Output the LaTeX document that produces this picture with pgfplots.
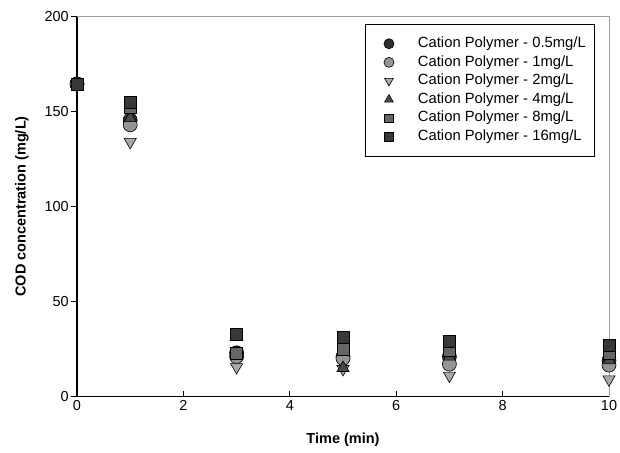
\documentclass[border=0pt]{standalone}
\usepackage{pgfplots}
\pgfplotsset{compat=1.18}
\usepackage{fontspec}
\setmainfont{Liberation Sans}

\definecolor{cA}{HTML}{2E2E2E}
\definecolor{cB}{HTML}{959595}
\definecolor{cC}{HTML}{A8A8A8}
\definecolor{cD}{HTML}{4A4A4A}
\definecolor{cE}{HTML}{666666}
\definecolor{cF}{HTML}{383838}

\newcommand{\chartfont}{\fontsize{14.5}{17}\selectfont}

\begin{document}
\begin{tikzpicture}
\useasboundingbox (-77pt,-55.5pt) rectangle (543pt,396.5pt);
\begin{axis}[
  scale only axis,
  width=532pt, height=380pt,
  xmin=0, xmax=10, ymin=0, ymax=200,
  xtick={0,2,...,10}, ytick={0,50,...,200},
  axis x line*=bottom, axis y line*=left,
  axis line style={-, line width=1.1pt},
  xtick align=inside, ytick align=outside,
  major tick length=6pt,
  tick style={black, line width=0.9pt},
  /pgf/number format/assume math mode=true,
  tick label style={font=\chartfont},
  yticklabel style={inner xsep=2pt},
  xlabel={Time (min)},
  ylabel={COD concentration (mg/L)},
  every axis x label/.style={at={(axis description cs:0.5,-0.1145)}, anchor=center, font=\chartfont\bfseries},
  every axis y label/.style={at={(axis description cs:-0.1034,0.5)}, rotate=90, anchor=center, font=\chartfont\bfseries},
  clip=false,
  legend cell align=left,
  legend style={at={(rel axis cs:0.974,0.980)}, anchor=north east,
    draw=black, line width=0.8pt, fill=white,
    font=\fontsize{14.8}{17}\selectfont,
    inner xsep=7pt, inner ysep=12pt,
    row sep=4.1pt, column sep=10pt,
    nodes={inner ysep=0.5pt, text height=10.5pt, text depth=3pt}},
  legend image code/.code={%
    \path[draw=none, fill=none] (0pt,-3pt) rectangle (34pt,3pt);
    \draw[mark repeat=2, mark phase=2, #1, every mark/.append style={scale=0.72}]
      plot coordinates {(0pt,0pt) (17pt,0pt) (34pt,0pt)};},
]
% thin frame on top and right
\draw[gray!75, line width=0.9pt] (rel axis cs:0,1) -- (rel axis cs:1,1) -- (rel axis cs:1,0);

\addplot[only marks, mark=*, mark size=7pt, mark options={draw=black, fill=cA, line width=0.6pt}]
  coordinates {(0,164.5) (1,145.5) (3,23) (5,21) (7,21) (10,19)};
\addlegendentry{Cation Polymer - 0.5mg/L}
\addplot[only marks, mark=*, mark size=7pt, mark options={draw=black, fill=cB, line width=0.6pt}]
  coordinates {(0,164.5) (1,143) (3,21) (5,20) (7,17) (10,16.5)};
\addlegendentry{Cation Polymer - 1mg/L}
\addplot[only marks, mark=triangle*, mark size=7pt, mark options={rotate=180, draw=black, fill=cC, line width=0.6pt}]
  coordinates {(0,164.5) (1,134) (3,15.5) (5,14.5) (7,11) (10,9)};
\addlegendentry{Cation Polymer - 2mg/L}
\addplot[only marks, mark=triangle*, mark size=7pt, mark options={draw=black, fill=cD, line width=0.6pt}]
  coordinates {(0,164.5) (1,146.5) (3,22.5) (5,15) (7,21) (10,19)};
\addlegendentry{Cation Polymer - 4mg/L}
\addplot[only marks, mark=square*, mark size=6pt, mark options={draw=black, fill=cE, line width=0.6pt}]
  coordinates {(0,164.5) (1,152) (3,23) (5,25) (7,24.5) (10,23)};
\addlegendentry{Cation Polymer - 8mg/L}
\addplot[only marks, mark=square*, mark size=6pt, mark options={draw=black, fill=cF, line width=0.6pt}]
  coordinates {(0,164.5) (1,155) (3,33) (5,31) (7,29) (10,27)};
\addlegendentry{Cation Polymer - 16mg/L}
\end{axis}
\end{tikzpicture}
\end{document}
